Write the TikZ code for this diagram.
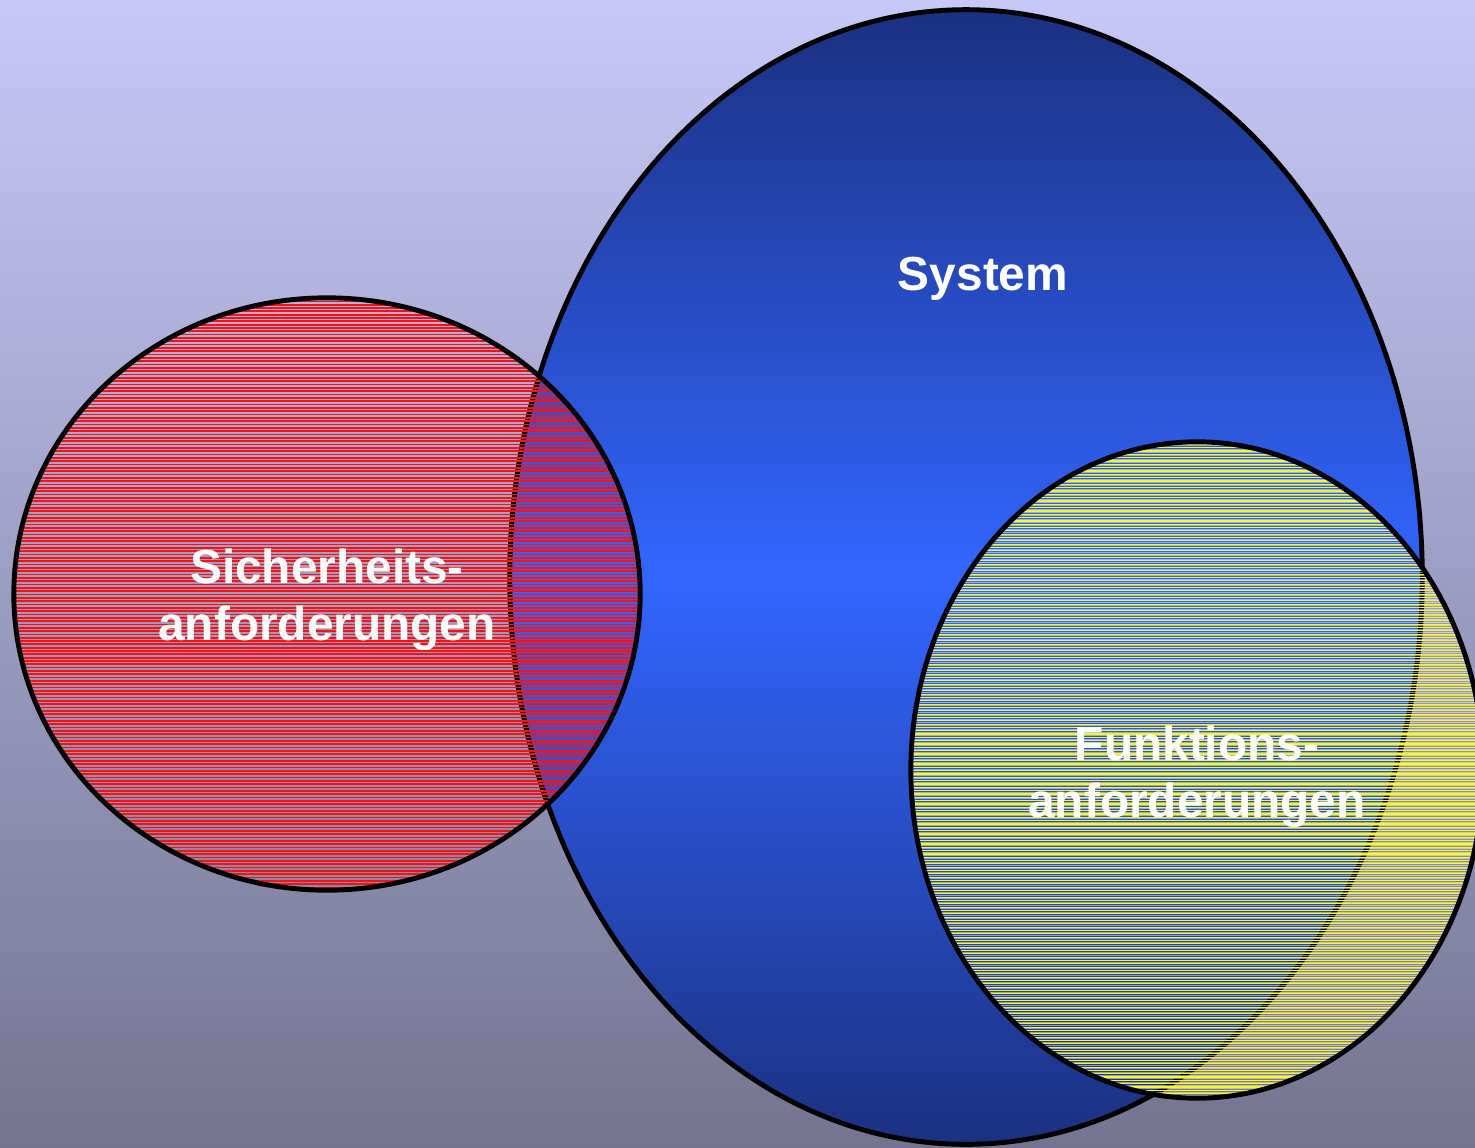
\documentclass[tikz,border=0pt]{standalone}
\usepackage{fontspec}
\setmainfont{Liberation Sans}
\usepackage{xcolor}
\usepackage{tikz}
\definecolor{bgtop}{HTML}{C8C8F8}
\definecolor{bgbottom}{HTML}{747490}
\definecolor{sysdark}{HTML}{1B3080}
\definecolor{sysmid}{HTML}{3366FF}
\definecolor{hatchred}{HTML}{FF1010}
\definecolor{hatchyellow}{HTML}{FFFF00}

\begin{document}
\begin{tikzpicture}[x=0.01cm, y=-0.01cm,
  rim/.style={black, line width=1.4pt},
  redline/.style={hatchred, line width=0.48pt},
  yellowline/.style={hatchyellow, line width=0.32pt},
  paleline/.style={white, opacity=0.5, line width=0.2pt},
  label/.style={white, font=\bfseries\fontsize{13.6}{16.2}\selectfont, align=center}]
\shade [top color=bgtop, bottom color=bgbottom] (0, 0) rectangle (1475, 1147);
\useasboundingbox (0, 0) rectangle (1475, 1147);
\shade [top color=sysdark, bottom color=sysdark, middle color=sysmid] (966, 577) ellipse [x radius=4.56cm, y radius=5.67cm];
\draw [rim] (966, 577) ellipse [x radius=4.56cm, y radius=5.67cm];
\begin{scope}
\clip (327, 594) ellipse [x radius=3.13cm, y radius=2.96cm];
\foreach \h in {298, 301.33, ..., 892}
  \draw [redline] (10, \h) -- (645, \h);
\end{scope}
\draw [rim] (327, 594) ellipse [x radius=3.13cm, y radius=2.96cm];
\begin{scope}
\clip (1197, 770) ellipse [x radius=2.86cm, y radius=3.28cm];
\foreach \h in {441, 444.33, ..., 1100}
{
  \draw [yellowline] (905, \h) -- (1490, \h);
  \draw [paleline] (905, \h+1.5) -- (1490, \h+1.5);
}
\end{scope}
\draw [rim] (1197, 770) ellipse [x radius=2.86cm, y radius=3.28cm];
\node [label] (system) at (983, 279) {System};
\node [label] (sicher) at (327, 600) {Sicherheits-\\anforderungen};
\node [label] (funktion) at (1197, 777) {Funktions-\\anforderungen};
\end{tikzpicture}
\end{document}
